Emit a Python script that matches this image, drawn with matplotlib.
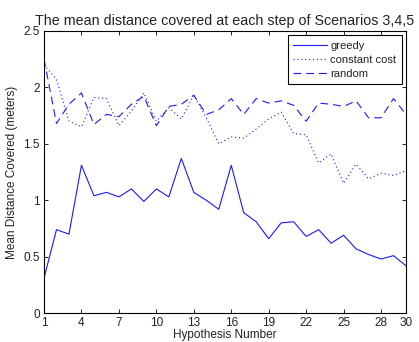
import matplotlib

matplotlib.use("Agg")
import matplotlib.pyplot as plt  # noqa: E402

# Hypothesis number 1..30
hypothesis = list(range(1, 31))

greedy = [0.31, 0.74, 0.70, 1.31, 1.04, 1.07, 1.03, 1.10, 0.99, 1.10,
          1.03, 1.37, 1.07, 1.00, 0.92, 1.31, 0.89, 0.81, 0.66, 0.80,
          0.81, 0.68, 0.74, 0.62, 0.69, 0.57, 0.52, 0.48, 0.51, 0.42]

constant_cost = [2.20, 2.07, 1.70, 1.65, 1.91, 1.90, 1.66, 1.79, 1.95, 1.70,
                 1.82, 1.72, 1.93, 1.73, 1.50, 1.56, 1.55, 1.63, 1.72, 1.78,
                 1.59, 1.58, 1.33, 1.41, 1.15, 1.32, 1.19, 1.24, 1.22, 1.26]

random_walk = [2.25, 1.68, 1.85, 1.95, 1.67, 1.76, 1.74, 1.85, 1.92, 1.66,
               1.83, 1.85, 1.93, 1.76, 1.80, 1.90, 1.76, 1.90, 1.86, 1.88,
               1.84, 1.70, 1.86, 1.85, 1.83, 1.88, 1.73, 1.73, 1.90, 1.76]

x_ticks = [1, 4, 7, 10, 13, 16, 19, 22, 25, 28, 30]
y_ticks = [0, 0.5, 1, 1.5, 2, 2.5]
y_tick_labels = ["0", "0.5", "1", "1.5", "2", "2.5"]

plt.rcParams["font.family"] = ["Liberation Sans", "DejaVu Sans"]

fig = plt.figure(figsize=(4.19, 3.42), dpi=100)
ax = fig.add_axes([0.105, 0.084, 0.864, 0.826])

blue = "#1a1aff"
text_col = "#222222"
ax.plot(hypothesis, greedy, color=blue, lw=0.8, label="greedy")
ax.plot(hypothesis, constant_cost, color=blue, lw=0.8, dashes=(1, 2.5),
        label="constant cost")
ax.plot(hypothesis, random_walk, color=blue, lw=0.8, dashes=(7, 4.5),
        label="random")

ax.set_xlim(1, 30)
ax.set_ylim(0, 2.5)
ax.set_xticks(x_ticks)
ax.set_yticks(y_ticks)
ax.set_yticklabels(y_tick_labels)
ax.tick_params(direction="in", top=True, right=True, length=3, width=0.6,
               labelsize=8.5, pad=3, labelcolor=text_col)
for spine in ax.spines.values():
    spine.set_linewidth(0.8)

ax.set_xlabel("Hypothesis Number", fontsize=8.5, labelpad=0, color=text_col)
ax.set_ylabel("Mean Distance Covered (meters)", fontsize=8.5, labelpad=4,
              color=text_col)
ax.set_title("The mean distance covered at each step of Scenarios 3,4,5",
             fontsize=10.3, pad=4, color=text_col)

leg = ax.legend(loc="upper right", fontsize=8, fancybox=False,
                edgecolor="black", framealpha=1, handlelength=3.0,
                handletextpad=0.3, borderaxespad=0.4, labelspacing=0.35,
                borderpad=0.5)
leg.get_frame().set_linewidth(0.8)
for t in leg.get_texts():
    t.set_color(text_col)

fig.savefig("out.png", dpi=100)
